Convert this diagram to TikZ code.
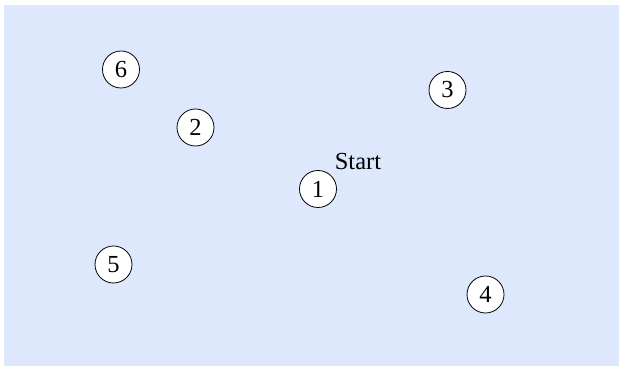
\documentclass[tikz,border=0pt]{standalone}
\usepackage{fontspec}
\setmainfont{Liberation Serif}
\definecolor{bgblue}{HTML}{DDE8FD}
\begin{document}
\begin{tikzpicture}[x=1pt,y=1pt,
  vert/.style={circle,draw=black,fill=white,line width=0.8pt,minimum size=37pt,inner sep=0pt,font=\fontsize{24.5}{26}\selectfont},
  lbl/.style={inner sep=0pt,font=\fontsize{24.5}{26}\selectfont}]
\useasboundingbox (0,0) rectangle (619,366);
\fill[bgblue] (4,0) rectangle (619,361);
\node[vert] (n1) at (318,177) {1};
\node[vert] (n2) at (195.5,238.5) {2};
\node[vert] (n3) at (447.5,276) {3};
\node[vert] (n4) at (485.5,71.5) {4};
\node[vert] (n5) at (113.5,101.5) {5};
\node[vert] (n6) at (121,296.5) {6};
\node[lbl] (start) at (358,204) {Start};
\end{tikzpicture}
\end{document}
